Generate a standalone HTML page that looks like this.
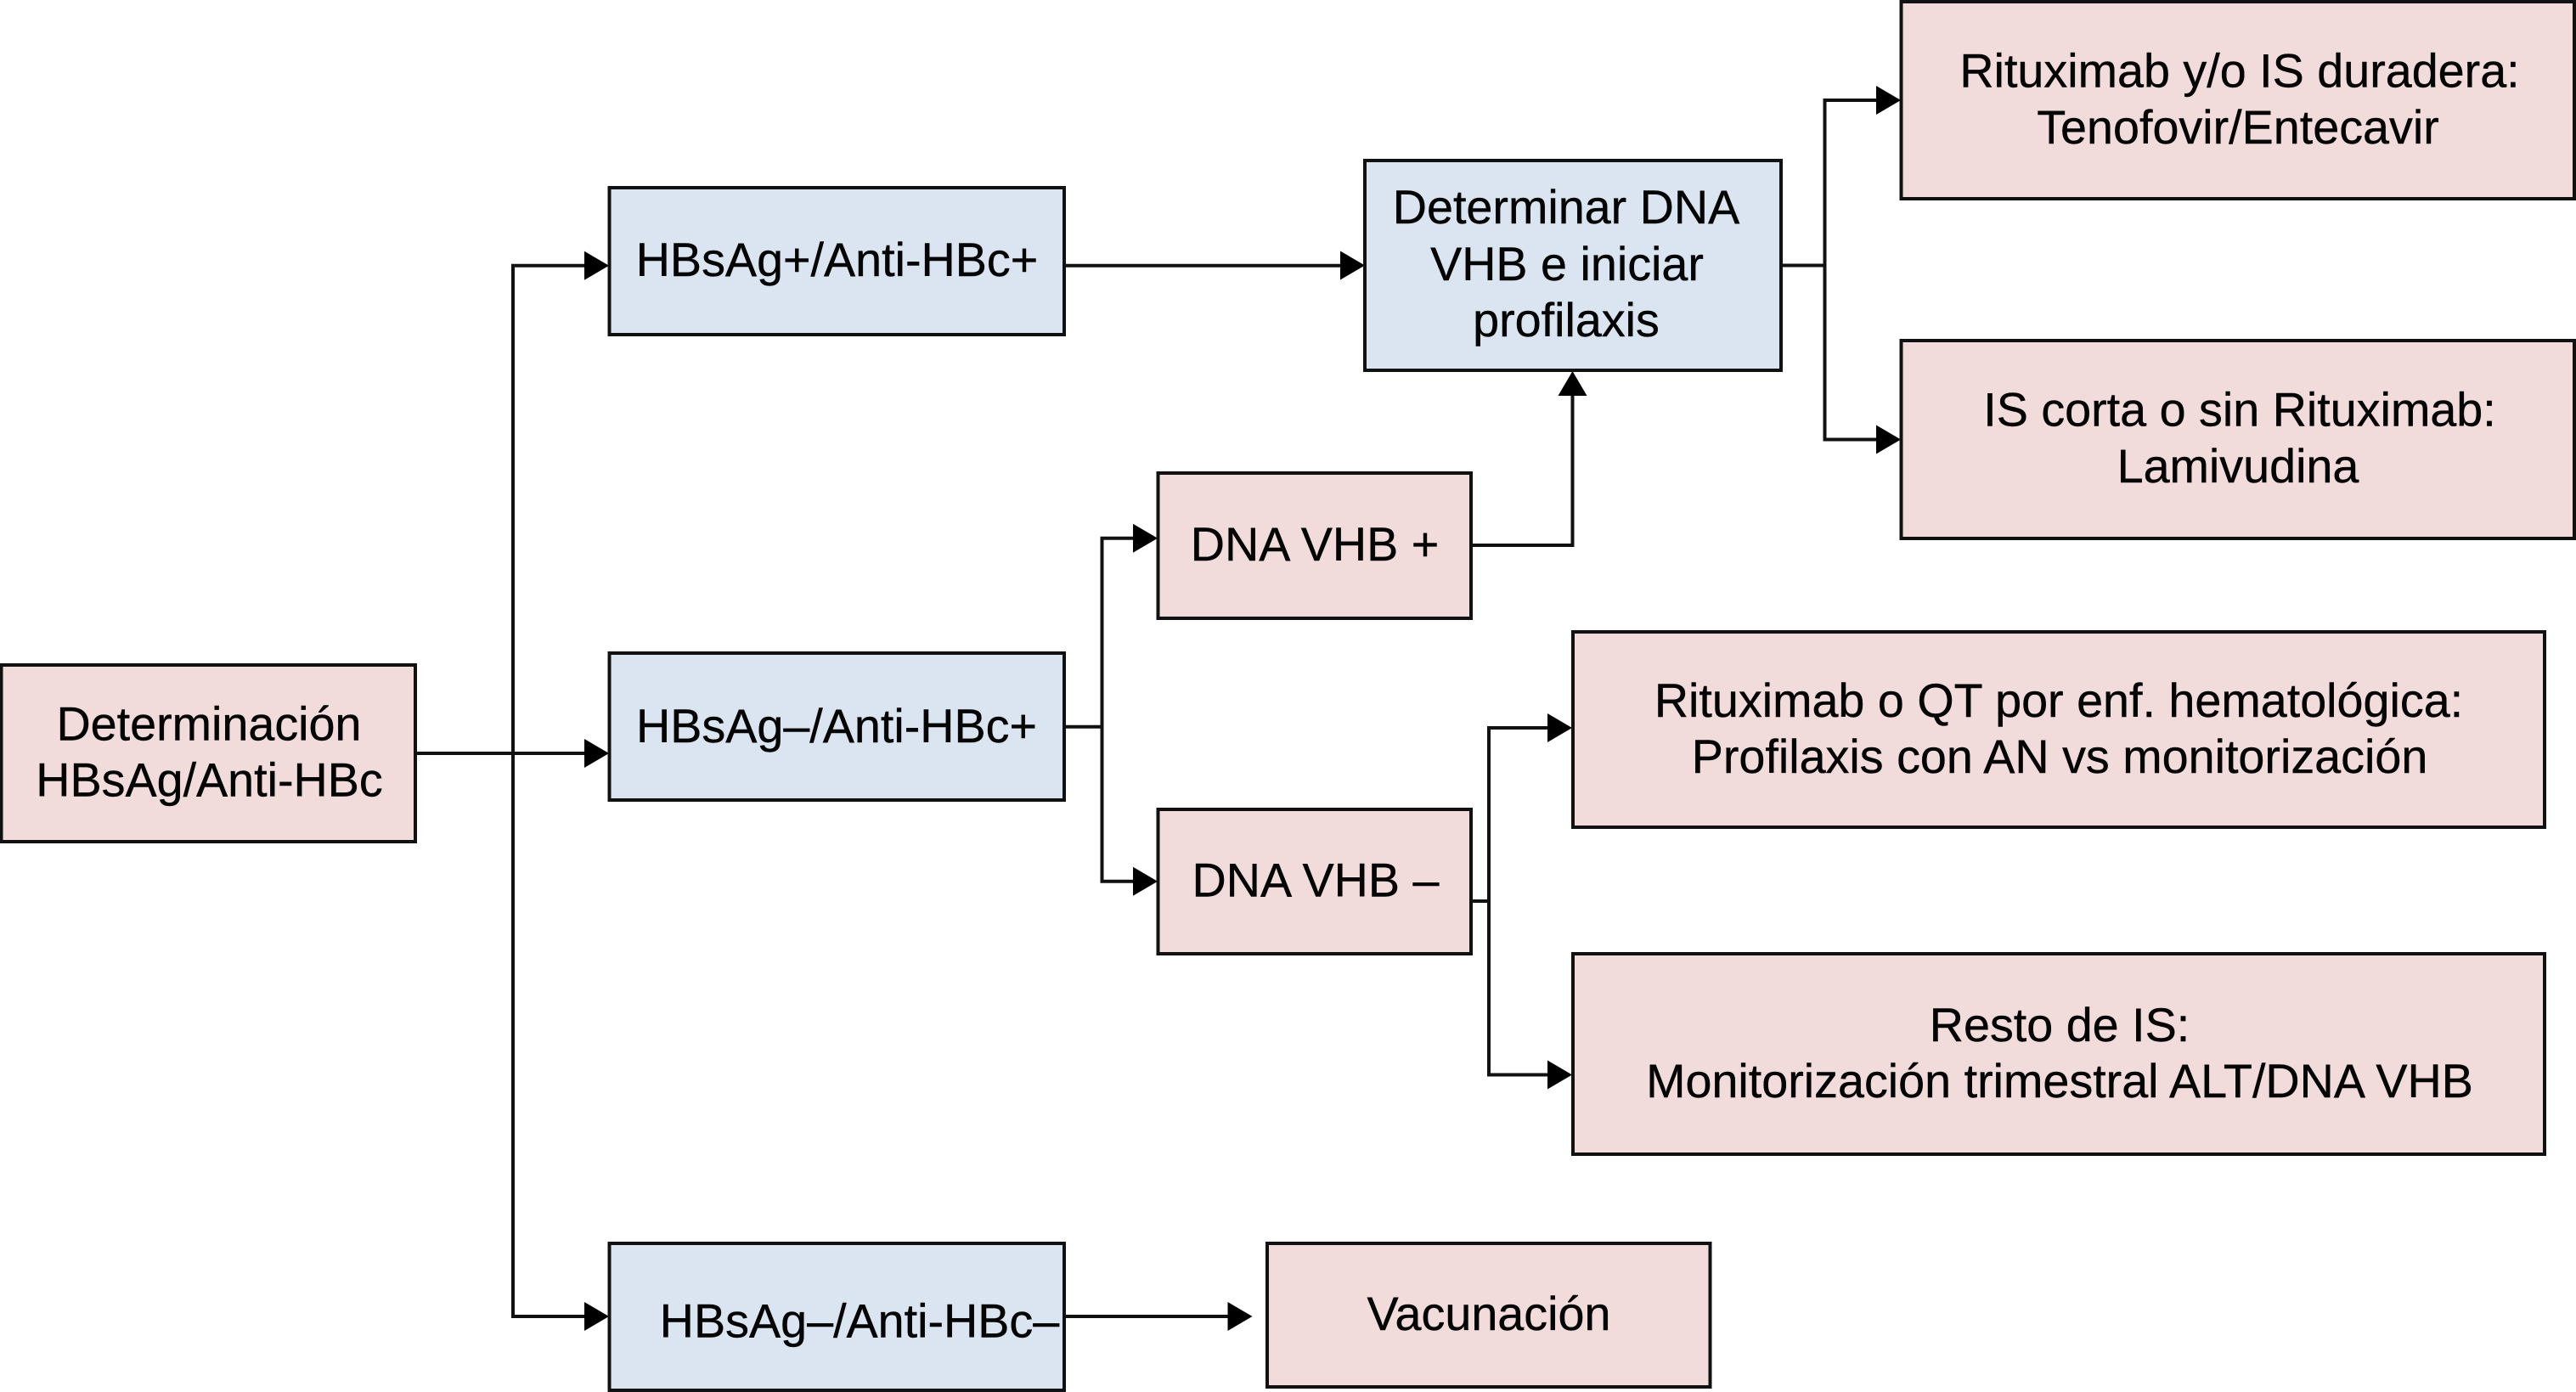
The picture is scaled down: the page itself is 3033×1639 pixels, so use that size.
<!DOCTYPE html>
<html lang="es">
<head>
<meta charset="utf-8">
<title>Diagrama HBsAg</title>
<style>
html,body{margin:0;padding:0;background:#fff;width:3033px;height:1639px;overflow:hidden}
svg{display:block}
text{font-family:"Liberation Sans",Arial,sans-serif;font-size:55.7px;fill:#050505;stroke:#050505;stroke-width:.4px;text-anchor:middle}
.p{fill:#f2dcdb;stroke:#111;stroke-width:4}
.b{fill:#dbe5f1;stroke:#111;stroke-width:4}
.l{fill:none;stroke:#111;stroke-width:4}
.a{fill:#000}
</style>
</head>
<body>
<svg width="3033" height="1639" viewBox="0 0 3033 1639" xmlns="http://www.w3.org/2000/svg">
<rect width="3033" height="1639" fill="#fff"/>

<!-- connectors -->
<path class="l" d="M489 887H690"/>
<path class="l" d="M690 312.7H604V1550H690"/>
<path class="l" d="M1253 312.7H1580"/>
<path class="l" d="M1253 855.7H1297.5"/>
<path class="l" d="M1334 633.7H1297.5V1037.7H1334"/>
<path class="l" d="M1732 642H1851.5V464"/>
<path class="l" d="M2097 312.5H2148.5"/>
<path class="l" d="M2210 118H2148.5V517.5H2210"/>
<path class="l" d="M1732 1061H1753"/>
<path class="l" d="M1822 857H1753V1265.5H1822"/>
<path class="l" d="M1253 1550H1447"/>

<!-- arrowheads -->
<polygon class="a" points="688,295.7 717,312.7 688,329.7"/>
<polygon class="a" points="688,870 717,887 688,904"/>
<polygon class="a" points="688,1533 717,1550 688,1567"/>
<polygon class="a" points="1578,295.5 1607,312.5 1578,329.5"/>
<polygon class="a" points="1334,616.7 1363,633.7 1334,650.7"/>
<polygon class="a" points="1334,1020.7 1363,1037.7 1334,1054.7"/>
<polygon class="a" points="1834.5,466 1851.5,437 1868.5,466"/>
<polygon class="a" points="2209,101 2238,118 2209,135"/>
<polygon class="a" points="2209,500.5 2238,517.5 2209,534.5"/>
<polygon class="a" points="1822,840 1851,857 1822,874"/>
<polygon class="a" points="1822,1248.5 1851,1265.5 1822,1282.5"/>
<polygon class="a" points="1445.5,1533 1474.5,1550 1445.5,1567"/>

<!-- boxes -->
<rect class="p" x="1.5" y="783" width="487.5" height="208"/>
<rect class="b" x="717.5" y="221" width="535.5" height="173"/>
<rect class="b" x="717.5" y="769" width="535.5" height="173"/>
<rect class="b" x="717.5" y="1464" width="535.5" height="173"/>
<rect class="b" x="1607" y="189" width="490" height="247"/>
<rect class="p" x="1363.5" y="557" width="368.5" height="171"/>
<rect class="p" x="1363.5" y="953" width="368.5" height="170"/>
<rect class="p" x="2238.5" y="2" width="792.5" height="232"/>
<rect class="p" x="2238.5" y="401" width="792.5" height="233"/>
<rect class="p" x="1852" y="744" width="1144" height="230"/>
<rect class="p" x="1852" y="1123" width="1144" height="236"/>
<rect class="p" x="1492" y="1464" width="521.5" height="169"/>

<!-- labels -->
<text x="246" y="871.7">Determinación</text>
<text x="246.5" y="937.7">HBsAg/Anti-HBc</text>
<text x="985.5" y="325">HBsAg+/Anti-HBc+</text>
<text x="985" y="874">HBsAg–/Anti-HBc+</text>
<text x="1012" y="1574.7">HBsAg–/Anti-HBc–</text>
<text x="1844" y="263">Determinar DNA</text>
<text x="1845" y="330">VHB e iniciar</text>
<text x="1844" y="396">profilaxis</text>
<text x="1548" y="660">DNA VHB +</text>
<text x="1549" y="1055.7">DNA VHB –</text>
<text x="1753" y="1566">Vacunación</text>
<text x="2637" y="102.7">Rituximab y/o IS duradera:</text>
<text x="2635" y="169">Tenofovir/Entecavir</text>
<text x="2637" y="501.7">IS corta o sin Rituximab:</text>
<text x="2635" y="568">Lamivudina</text>
<text x="2424" y="844">Rituximab o QT por enf. hematológica:</text>
<text x="2425" y="910">Profilaxis con AN vs monitorización</text>
<text x="2425" y="1226">Resto de IS:</text>
<text x="2425" y="1292">Monitorización trimestral ALT/DNA VHB</text>
</svg>
</body>
</html>
